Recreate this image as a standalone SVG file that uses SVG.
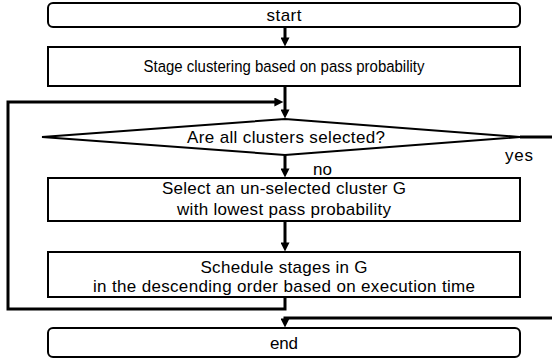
<svg xmlns="http://www.w3.org/2000/svg" width="552" height="360" viewBox="0 0 552 360">
<style>
.box{fill:#fff;stroke:#000;stroke-width:2}
.conn{fill:none;stroke:#000;stroke-width:3}
text{font-family:"Liberation Sans",Arial,sans-serif;font-size:17px;fill:#000}
.c{text-anchor:middle}
</style>
<defs>
<marker id="arr" viewBox="0 0 10 10" refX="4" refY="5" markerWidth="10" markerHeight="9" markerUnits="userSpaceOnUse" orient="auto">
<path d="M0,0 L10,5 L0,10 z" fill="#000"/>
</marker>
</defs>
<rect width="552" height="360" fill="#fff"/>
<g id="connectors">
<path class="conn" d="M285,27 V41" marker-end="url(#arr)"/>
<path class="conn" d="M285,86 V113" marker-end="url(#arr)"/>
<path class="conn" d="M285,155 V172" marker-end="url(#arr)"/>
<path class="conn" d="M285,221 V246" marker-end="url(#arr)"/>
<path class="conn" d="M285,297 V309 H8 V102 H278" marker-end="url(#arr)"/>
<path class="conn" d="M520,137 H560 V318 H285 V322" marker-end="url(#arr)"/>
<text x="313" y="175">no</text>
<text x="505" y="161" textLength="28">yes</text>
</g>
<g id="start">
<rect class="box" x="48" y="3" width="472" height="24" rx="5"/>
<text class="c" x="284" y="21" textLength="35">start</text>
</g>
<g id="clustering">
<rect class="box" x="48" y="47" width="472" height="39"/>
<text class="c" transform="translate(284,72) scale(0.88,1)" x="0" y="0">Stage clustering based on pass probability</text>
</g>
<g id="decision">
<polygon class="box" points="42,137 285,119 520,137 285,155"/>
<text class="c" x="286" y="143" textLength="198">Are all clusters selected?</text>
</g>
<g id="select">
<rect class="box" x="48" y="178" width="472" height="43"/>
<text class="c" x="284" y="194" textLength="244">Select an un-selected cluster G</text>
<text class="c" x="284" y="215" textLength="214">with lowest pass probability</text>
</g>
<g id="schedule">
<rect class="box" x="48" y="252" width="472" height="45"/>
<text class="c" x="284" y="273" textLength="167">Schedule stages in G</text>
<text class="c" x="284" y="292" textLength="382">in the descending order based on execution time</text>
</g>
<g id="end">
<rect class="box" x="48" y="328" width="472" height="29" rx="5"/>
<text class="c" x="284" y="349" textLength="28">end</text>
</g>
</svg>
